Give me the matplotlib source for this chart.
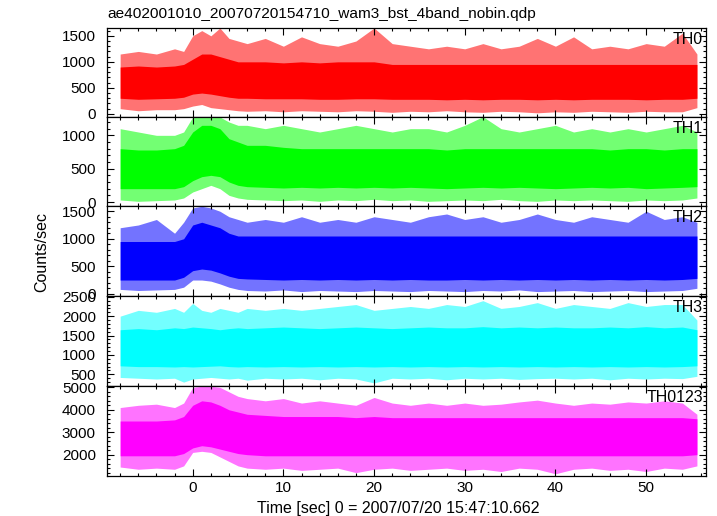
import matplotlib
matplotlib.use("Agg")
import matplotlib.pyplot as plt
from matplotlib.ticker import MultipleLocator

plt.rcParams['font.family'] = ['Liberation Sans', 'DejaVu Sans']

# Data: envelopes of the light curves (time knots in sec)
t = [-8, -6, -4, -2, -1, 0, 1, 2, 3, 4, 5, 6, 8, 10, 12, 14, 16, 18, 20, 22, 24,
     26, 28, 30, 32, 34, 36, 38, 40, 42, 44, 46, 48, 50, 52, 54, 55.6]

th0_hi = [1150, 1200, 1150, 1250, 1200, 1500, 1600, 1500, 1650, 1450, 1400, 1350, 1450,
          1300, 1480, 1350, 1300, 1400, 1650, 1350, 1300, 1250, 1300, 1250, 1350, 1250,
          1300, 1450, 1300, 1480, 1250, 1300, 1250, 1350, 1300, 1550, 1150]
th0_core_hi = [900, 920, 900, 920, 950, 1050, 1150, 1150, 1100, 1050, 1000, 1000, 1000,
               980, 1000, 980, 1000, 1000, 1000, 950, 950, 950, 950, 950, 950, 950, 950,
               950, 950, 950, 950, 950, 950, 950, 950, 950, 950]
th0_core_lo = [300, 280, 290, 300, 320, 380, 400, 380, 350, 320, 300, 300, 290, 290, 290,
               280, 280, 290, 290, 280, 280, 280, 270, 280, 270, 280, 280, 270, 280, 270,
               280, 280, 280, 270, 280, 280, 300]
th0_lo = [100, 60, 80, 80, 100, 150, 180, 120, 100, 80, 60, 50, 60, 40, 60, 50, 40, 60, 50,
          30, 50, 40, 60, 40, 30, 50, 40, 20, 40, 30, 50, 40, 30, 50, 40, 40, 120]

th1_hi = [1100, 1050, 1000, 1000, 1050, 1275, 1275, 1275, 1275, 1200, 1150, 1150, 1100,
          1150, 1100, 1050, 1100, 1150, 1100, 1050, 1100, 1100, 1050, 1150, 1280, 1100,
          1050, 1100, 1150, 1050, 1100, 1050, 1100, 1050, 1100, 1150, 1050]
th1_core_hi = [800, 780, 780, 800, 850, 1050, 1150, 1150, 1100, 950, 900, 850, 850, 820,
               800, 800, 800, 800, 800, 800, 800, 800, 780, 800, 800, 800, 800, 800, 800,
               800, 800, 780, 800, 800, 780, 800, 800]
th1_core_lo = [200, 200, 200, 200, 230, 320, 380, 400, 380, 300, 250, 230, 220, 210, 220,
               210, 220, 210, 220, 210, 220, 210, 200, 210, 220, 210, 220, 210, 200, 210,
               220, 210, 220, 200, 210, 220, 230]
th1_lo = [30, 10, 20, 30, 60, 150, 200, 250, 200, 100, 60, 40, 30, 20, 30, 10, 30, 20, 40,
          20, 30, 10, 20, 30, 20, 40, 20, 10, 30, 20, 30, 20, 10, 30, 20, 30, 60]

th2_hi = [1200, 1250, 1350, 1100, 1300, 1560, 1590, 1560, 1500, 1400, 1350, 1300, 1350,
          1300, 1400, 1300, 1350, 1300, 1400, 1350, 1300, 1400, 1450, 1350, 1400, 1300,
          1350, 1450, 1350, 1300, 1400, 1350, 1300, 1500, 1350, 1400, 1300]
th2_core_hi = [950, 950, 950, 950, 1000, 1250, 1300, 1250, 1200, 1100, 1050, 1050, 1050,
               1050, 1050, 1050, 1050, 1050, 1050, 1050, 1050, 1050, 1050, 1050, 1050,
               1050, 1050, 1050, 1050, 1050, 1050, 1050, 1050, 1050, 1050, 1050, 1050]
th2_core_lo = [250, 250, 250, 250, 300, 420, 450, 430, 380, 320, 280, 270, 260, 250, 260,
               250, 260, 250, 260, 250, 260, 250, 250, 260, 250, 260, 250, 260, 250, 260,
               250, 260, 250, 260, 250, 260, 280]
th2_lo = [80, 60, 70, 80, 120, 250, 250, 230, 180, 120, 80, 60, 50, 70, 40, 60, 50, 40, 60,
          50, 40, 60, 50, 40, 60, 50, 70, 40, 50, 60, 40, 50, 60, 40, 50, 60, 100]

th3_hi = [2000, 2150, 2100, 2200, 2100, 2330, 2150, 2100, 2200, 2150, 2100, 2200, 2150,
          2200, 2150, 2200, 2250, 2300, 2150, 2200, 2250, 2200, 2300, 2250, 2400, 2200,
          2250, 2350, 2200, 2300, 2250, 2200, 2350, 2250, 2300, 2300, 1900]
th3_core_hi = [1650, 1680, 1650, 1700, 1680, 1720, 1700, 1680, 1650, 1680, 1700, 1680,
               1700, 1720, 1700, 1680, 1700, 1720, 1700, 1680, 1700, 1720, 1700, 1700,
               1730, 1700, 1720, 1700, 1720, 1700, 1700, 1720, 1700, 1730, 1700, 1720, 1650]
th3_core_lo = [720, 700, 700, 690, 700, 690, 700, 710, 720, 700, 690, 700, 690, 700, 690,
               700, 690, 700, 690, 700, 690, 700, 690, 700, 690, 700, 690, 700, 690, 700,
               690, 700, 690, 700, 690, 700, 720]
th3_lo = [420, 400, 380, 400, 300, 380, 400, 420, 400, 380, 400, 350, 400, 380, 400, 360,
          400, 380, 280, 400, 380, 400, 360, 400, 380, 400, 370, 390, 400, 380, 400, 360,
          400, 380, 400, 390, 450]

th0123_hi = [4100, 4200, 4250, 4100, 4300, 5000, 5050, 5050, 5000, 4800, 4600, 4500, 4400,
             4500, 4300, 4400, 4300, 4200, 4550, 4300, 4200, 4300, 4200, 4300, 4200, 4250,
             4350, 4430, 4300, 4200, 4300, 4250, 4350, 4300, 4400, 4300, 3800]
th0123_core_hi = [3500, 3500, 3500, 3550, 3700, 4200, 4400, 4350, 4200, 4000, 3900, 3800,
                  3750, 3700, 3700, 3700, 3700, 3650, 3700, 3650, 3650, 3650, 3650, 3650,
                  3650, 3650, 3650, 3650, 3650, 3650, 3650, 3650, 3650, 3650, 3650, 3650, 3600]
th0123_core_lo = [1950, 1950, 1950, 1950, 2050, 2300, 2400, 2350, 2250, 2150, 2050, 2000,
                  1950, 1950, 1950, 1950, 1950, 1950, 1950, 1950, 1950, 1950, 1950, 1950,
                  1950, 1950, 1950, 1950, 1950, 1950, 1950, 1950, 1950, 1950, 1950, 1950, 2000]
th0123_lo = [1450, 1350, 1400, 1350, 1500, 2100, 2150, 2100, 1900, 1700, 1500, 1400, 1350,
             1400, 1300, 1350, 1400, 1200, 1350, 1400, 1300, 1350, 1400, 1300, 1350, 1250,
             1400, 1350, 1150, 1350, 1400, 1300, 1350, 1250, 1400, 1350, 1500]

names = ["TH0", "TH1", "TH2", "TH3", "TH0123"]
colors = ["#ff0000", "#00ff00", "#0000ff", "#00ffff", "#ff00ff"]
envelopes = [
    (th0_lo, th0_core_lo, th0_core_hi, th0_hi),
    (th1_lo, th1_core_lo, th1_core_hi, th1_hi),
    (th2_lo, th2_core_lo, th2_core_hi, th2_hi),
    (th3_lo, th3_core_lo, th3_core_hi, th3_hi),
    (th0123_lo, th0123_core_lo, th0123_core_hi, th0123_hi),
]
ylims = [(-60, 1650), (-60, 1275), (-40, 1595), (200, 2520), (1050, 5060)]
ymajor = [500, 500, 500, 500, 1000]
yminor = [100, 100, 100, 100, 200]

W, H = 717, 516
fig = plt.figure(figsize=(W / 100, H / 100), dpi=100)

left, right = 107, 706
tops = [28, 117, 206, 296, 386, 476]

for i in range(5):
    y0 = 1 - tops[i + 1] / H
    h = (tops[i + 1] - tops[i]) / H
    ax = fig.add_axes([left / W, y0, (right - left) / W, h])
    lo, clo, chi, hi = envelopes[i]
    ax.fill_between(t, lo, hi, color=colors[i], alpha=0.55, lw=0)
    ax.fill_between(t, clo, chi, color=colors[i], lw=0)
    ax.set_xlim(-9.45, 56.6)
    ax.set_ylim(*ylims[i])
    ax.xaxis.set_major_locator(MultipleLocator(10))
    ax.xaxis.set_minor_locator(MultipleLocator(2))
    ax.yaxis.set_major_locator(MultipleLocator(ymajor[i]))
    ax.yaxis.set_minor_locator(MultipleLocator(yminor[i]))
    ax.tick_params(which='both', direction='in', top=True, right=True,
                   labelsize=11, width=0.8)
    ax.tick_params(which='major', length=5)
    ax.tick_params(which='minor', length=2.5)
    ax.tick_params(axis='y', which='major', pad=8)
    for s in ax.spines.values():
        s.set_linewidth(0.9)
    if i < 4:
        ax.tick_params(labelbottom=False)
    ax.text(0.995, 0.96, names[i], transform=ax.transAxes, ha='right', va='top',
            fontsize=11.5)

fig.text(left / W, 1 - 14 / H, "ae402001010_20070720154710_wam3_bst_4band_nobin.qdp",
         ha='left', va='center', fontsize=11.1)
fig.text(42 / W, 1 - 252 / H, "Counts/sec", rotation=90, ha='center', va='center',
         fontsize=11.5)
fig.text(398 / W, 1 - 508 / H, "Time [sec] 0 = 2007/07/20 15:47:10.662",
         ha='center', va='center', fontsize=11.5)

fig.savefig("out.png", dpi=100)
